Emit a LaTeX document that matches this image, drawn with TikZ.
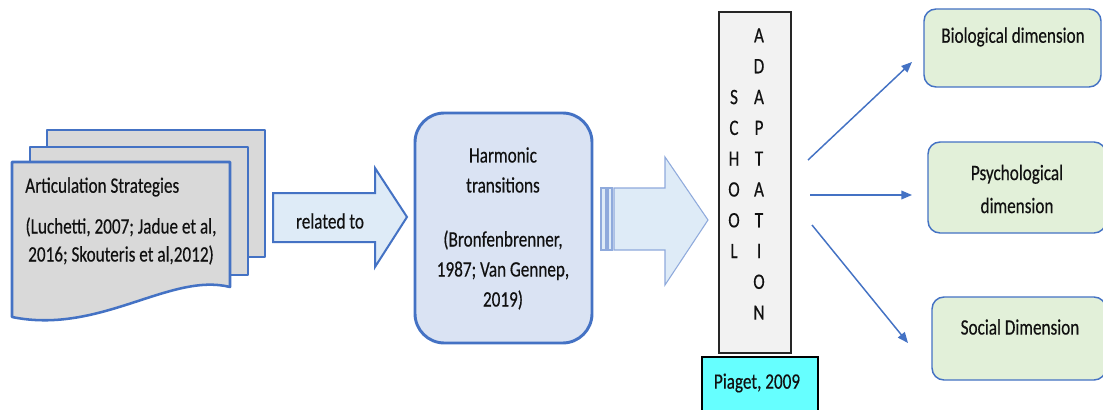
\documentclass[tikz,border=0pt]{standalone}
\usepackage{fontspec}
\setmainfont{Carlito}[FakeStretch=0.78,FakeBold=0.35]
\usetikzlibrary{arrows.meta}
\definecolor{bl}{HTML}{4472C4}
\definecolor{lightbl}{HTML}{8FAADC}
\definecolor{docgray}{HTML}{D9D9D9}
\definecolor{arrowfill}{HTML}{DEEBF7}
\definecolor{harmfill}{HTML}{DAE3F3}
\definecolor{schoolfill}{HTML}{F2F2F2}
\definecolor{piagetfill}{HTML}{66FFFF}
\definecolor{greenfill}{HTML}{E2F0D9}
\definecolor{txtcol}{HTML}{111111}
\tikzset{
  txt/.style={font=\fontsize{16.5pt}{21pt}\selectfont, text=txtcol, inner sep=0pt, align=center},
  page/.style={draw=bl, fill=docgray, line width=1.9pt, line join=round},
  blockarrow/.style={draw=bl, fill=arrowfill, line width=1.5pt, line join=miter},
  stripearrow/.style={draw=lightbl, fill=arrowfill, line width=0.8pt},
  harmbox/.style={draw=bl, fill=harmfill, line width=2.2pt, rounded corners=22pt},
  schoolbox/.style={draw=black!85, fill=schoolfill, line width=1.1pt},
  piagetbox/.style={draw=black, fill=piagetfill, line width=1.1pt},
  greenbox/.style={draw=bl, fill=greenfill, line width=1.1pt, rounded corners=9pt},
  conn/.style={draw=bl, line width=1.1pt, -{Triangle[length=8pt,width=6.5pt]}}
}
\begin{document}
\begin{tikzpicture}[x=0.75pt,y=-0.75pt]
\clip (0,0) rectangle (1103,410);
\fill[white] (0,0) rectangle (1103,410);

% document stack
\draw[page] (47,130) rectangle (265,257);
\draw[page] (30,147) rectangle (248,275);
\draw[page] (12,162) -- (230,162) -- (230,287)
   .. controls (170,272) and (100,335) .. (12,317) -- cycle;
\node[txt, anchor=west] (artic) at (25,187) {Articulation Strategies};
\node[txt, font=\fontsize{16.5pt}{21pt}\selectfont] (articcite) at (121,241) {(Luchetti, 2007; Jadue et al,\\2016; Skouteris et al,2012)};

% related to arrow
\draw[blockarrow] (273,193) -- (375,193) -- (375,168) -- (407,217) -- (375,267) -- (375,242) -- (273,242) -- cycle;
\node[txt] (rel) at (330,221) {related to};

% harmonic box
\draw[harmbox] (415,113) rectangle (592,343);
\node[txt, font=\fontsize{16.5pt}{22.5pt}\selectfont] (harm) at (503,170) {Harmonic\\transitions};
\node[txt, font=\fontsize{16.5pt}{22.5pt}\selectfont] (harmcite) at (503,270) {(Bronfenbrenner,\\1987; Van Gennep,\\2019)};

% striped arrow
\draw[stripearrow] (601,188) rectangle (606,250);
\draw[stripearrow] (608,188) rectangle (612,250);
\draw[stripearrow] (614,188) -- (665,188) -- (665,157) -- (708,220) -- (665,285) -- (665,250) -- (614,250) -- cycle;

% school adaptation
\draw[schoolbox] (719,12) rectangle (791,353);
\node[txt, font=\fontsize{16.5pt}{23.1pt}\selectfont] (school) at (734,174) {S\\C\\H\\O\\O\\L};
\node[txt, font=\fontsize{16.5pt}{23.1pt}\selectfont] (adapt) at (759,174) {A\\D\\A\\P\\T\\A\\T\\I\\O\\N};

% piaget
\draw[piagetbox] (702,420) -- (702,357) -- (818,357) -- (818,420);
\node[txt] (piaget) at (757,383) {Piaget, 2009};

% right boxes
\draw[greenbox] (924,9) rectangle (1101,87);
\node[txt] (bio) at (1013,37) {Biological dimension};
\draw[greenbox] (928,142) rectangle (1106,233);
\node[txt, font=\fontsize{16.5pt}{24.75pt}\selectfont] (psy) at (1017,189) {Psychological\\dimension};
\draw[greenbox] (932,297) rectangle (1106,380);
\node[txt] (soc) at (1020,327) {Social Dimension};

% connectors
\coordinate (s1) at (808,160);
\coordinate (e1) at (912,62);
\coordinate (s2) at (810,195);
\coordinate (e2) at (912,195);
\coordinate (s3) at (812,225);
\coordinate (e3) at (908,343);
\draw[conn] (s1) -- (e1);
\draw[conn] (s2) -- (e2);
\draw[conn] (s3) -- (e3);
\end{tikzpicture}
\end{document}
